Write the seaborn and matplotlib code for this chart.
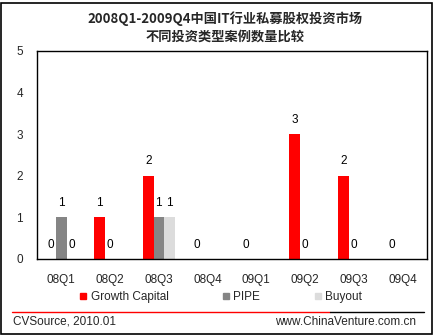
import numpy as np
import pandas as pd
import matplotlib
matplotlib.use("Agg")
import matplotlib.pyplot as plt
import seaborn as sns
from matplotlib.lines import Line2D

quarters = ["08Q1", "08Q2", "08Q3", "08Q4", "09Q1", "09Q2", "09Q3", "09Q4"]
series = ["Growth Capital", "PIPE", "Buyout"]
growth = [0, 1, 2, 0, 0, 3, 2, 0]
pipe = [1, 0, 1, np.nan, np.nan, 0, 0, np.nan]
buyout = [0, np.nan, 1, np.nan, np.nan, np.nan, np.nan, np.nan]
colors = ["#FF0000", "#858585", "#DCDCDC"]
title = "2008Q1-2009Q4中国IT行业私募股权投资市场\n不同投资类型案例数量比较"
yticks = [0, 1, 2, 3, 4, 5]

sns.set_style("white")
plt.rcParams["font.family"] = ["Liberation Sans", "DejaVu Sans"]

values = {"Growth Capital": growth, "PIPE": pipe, "Buyout": buyout}
rows = []
for s in series:
    for q, v in zip(quarters, values[s]):
        rows.append({"quarter": q, "series": s, "value": 0 if pd.isna(v) else v})
df = pd.DataFrame(rows)

fig = plt.figure(figsize=(4.35, 3.35), dpi=100)
ax = fig.add_axes([0.085, 0.2269, 0.8966, 0.6209])
sns.barplot(data=df, x="quarter", y="value", hue="series", order=quarters,
            hue_order=series, palette=colors, width=0.65, linewidth=0,
            saturation=1, ax=ax, legend=False, errorbar=None)

for cont, s in zip(ax.containers, series):
    labs = ["" if pd.isna(v) else f"{int(v)}" for v in values[s]]
    ax.bar_label(cont, labels=labs, padding=6, fontsize=8.5, color="black")

ax.set_ylim(0, 5)
ax.set_yticks(yticks)
ax.set_xlabel("")
ax.set_ylabel("")
ax.tick_params(axis="y", length=0, pad=10, labelsize=8.5)
ax.tick_params(axis="x", length=0, pad=10.5, labelsize=8.5)
for sp in ax.spines.values():
    sp.set_visible(True)
    sp.set_color("black")
    sp.set_linewidth(1)

fig.text(0.517, 1 - 27.5 / 335, title, ha="center", va="center", fontsize=9.5,
         fontweight="bold", family=["Noto Sans CJK SC", "DejaVu Sans"],
         linespacing=1.3)

handles = [Line2D([0], [0], marker="s", linestyle="", markersize=5,
                  markerfacecolor=c, markeredgecolor=c) for c in colors]
fig.legend(handles, series, loc="center", bbox_to_anchor=(0.508, 0.113),
           ncol=3, frameon=False, fontsize=8.5, handlelength=0.6,
           handletextpad=0.3, columnspacing=4.6)

fig.add_artist(Line2D([12 / 435, 330 / 435], [1 - 312 / 335] * 2,
                      color="#FF0000", linewidth=1, transform=fig.transFigure))
fig.add_artist(Line2D([330 / 435, 424 / 435], [1 - 312 / 335] * 2,
                      color="black", linewidth=1, transform=fig.transFigure))
fig.text(13 / 435, 1 - 322 / 335, "CVSource, 2010.01", ha="left", va="center",
         fontsize=8.5)
fig.text(416 / 435, 1 - 322 / 335, "www.ChinaVenture.com.cn", ha="right",
         va="center", fontsize=8.5)

fig.add_artist(plt.Rectangle((1.5 / 435, 1.5 / 335), 431 / 435, 331 / 335,
                             fill=False, edgecolor="black", linewidth=1.2,
                             transform=fig.transFigure))

fig.savefig("out.png", dpi=100)
